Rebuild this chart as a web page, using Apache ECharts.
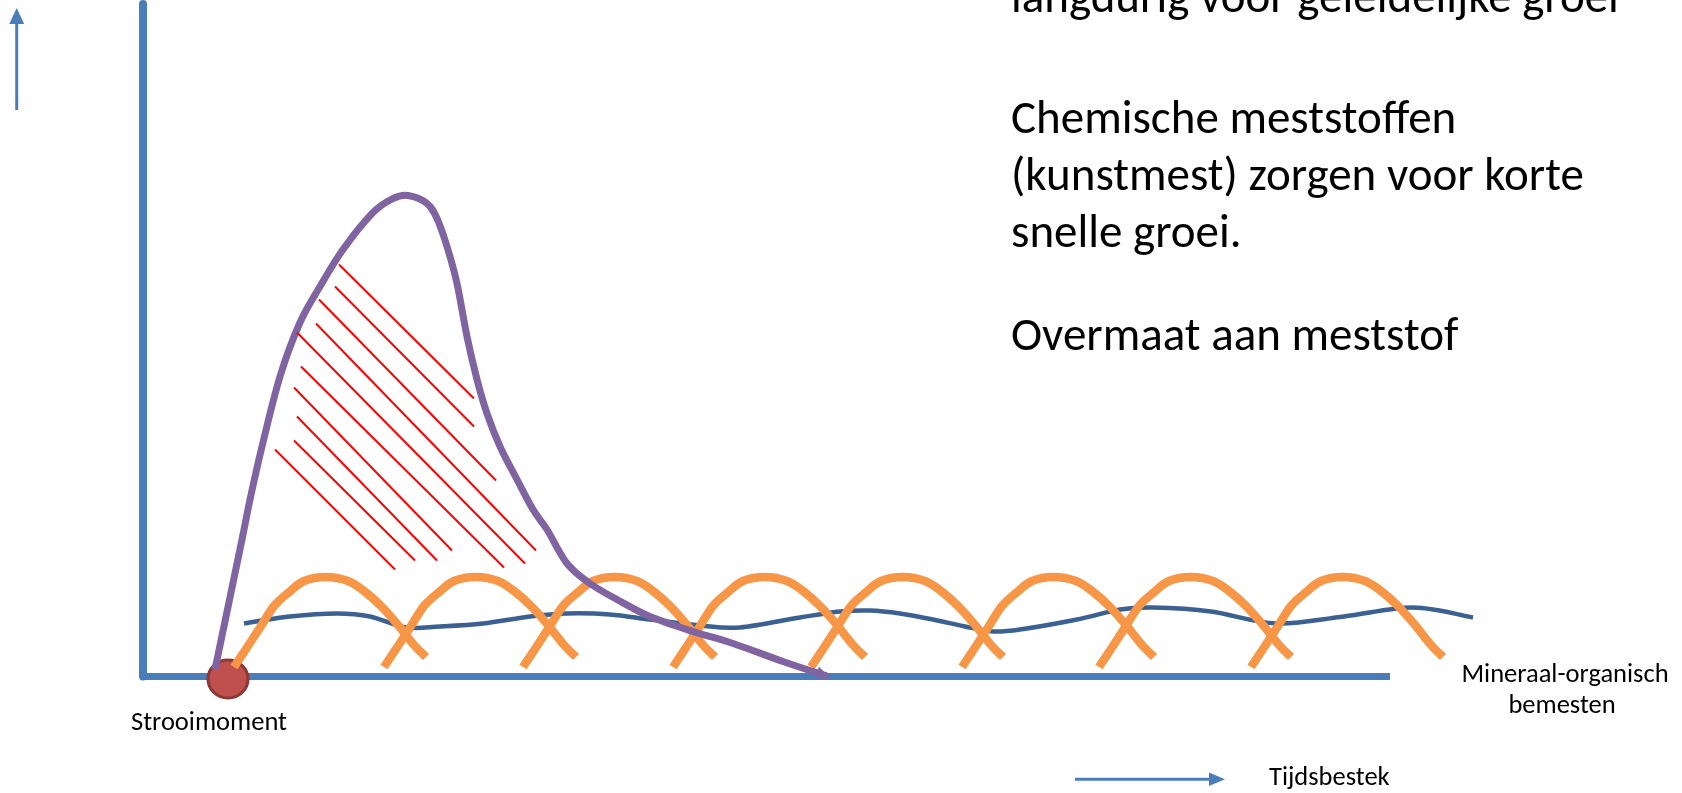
<!DOCTYPE html>
<html>
<head>
<meta charset="utf-8">
<script src="https://cdn.jsdelivr.net/npm/echarts@6/dist/echarts.min.js"></script>
<style>
html,body{margin:0;padding:0;background:#fff;}
#chart{width:1682px;height:793px;}
</style>
</head>
<body>
<div id="chart"></div>
<script>
// ---- data (time units on x, level units on y) ----
const xRange = [0, 124.7];
const yRange = [0, 67.25];

const spreadMoment = [[8.5, -0.25]];

// chemical fertiliser: fast peak, quick decline
const chemicalCurve = [
  [7.2,0.7],[9.9,13.7],[10.7,17.7],[11.9,23.0],[13.7,30.0],[15.7,35.4],[17.7,39.0],
  [20.0,42.7],[23.0,46.4],[25.0,47.8],[26.5,48.1],[28.4,47.3],[29.4,45.8],[30.4,43.0],
  [31.4,39.3],[32.4,34.0],[33.4,29.7],[34.4,26.3],[35.7,23.0],[37.4,19.7],[39.0,16.7],
  [40.4,14.7],[42.4,11.3],[44.7,9.3],[47.4,7.7],[50.7,6.0],[55.0,4.5],[59.0,3.3],
  [64.0,1.5],[68.5,0.0]
];
const chemicalArrowTip = [[68.0, 0.2]];

// mineral-organic: gentle long wave
const mineralOrganic = [
  [10.1,5.3],[14.7,6.0],[19.4,6.3],[22.7,6.0],[26.3,4.9],[29.7,5.0],[34.0,5.3],
  [38.7,6.0],[42.4,6.3],[46.7,6.2],[50.7,5.7],[55.7,5.1],[59.7,4.9],[65.7,5.9],
  [69.7,6.5],[72.7,6.6],[75.7,6.3],[79.0,5.7],[82.2,5.0],[85.0,4.5],[87.7,4.7],
  [93.4,5.7],[97.7,6.7],[101.0,6.9],[106.8,6.5],[113.3,5.3],[120.1,6.0],[127.0,6.9],
  [133.0,5.9]
];

// repeated organic pulses (same heights for each pulse)
const arcLevels = [0.95, 3.05, 5.05, 7.05, 8.35, 9.55, 9.95, 9.55, 8.55, 7.05, 5.15, 3.15, 1.95];
const arc1X = [9.1, 10.5, 11.8, 13.1, 14.5, 16.1, 18.3, 20.5, 22.1, 23.8, 25.5, 27.1, 28.3];
const arc2X = [24.1, 25.5, 26.8, 28.1, 29.5, 31.1, 33.3, 35.5, 37.1, 38.8, 40.5, 42.1, 43.3];
const arc3X = [38.0, 39.4, 40.7, 42.0, 43.4, 45.0, 47.2, 49.4, 51.0, 52.7, 54.4, 56.0, 57.2];
const arc4X = [53.0, 54.4, 55.7, 57.0, 58.4, 60.0, 62.2, 64.4, 66.0, 67.7, 69.4, 71.0, 72.2];
const arc5X = [66.8, 68.2, 69.5, 70.8, 72.2, 73.8, 76.0, 78.2, 79.8, 81.5, 83.2, 84.8, 86.0];
const arc6X = [81.9, 83.3, 84.6, 85.9, 87.3, 88.9, 91.1, 93.3, 94.9, 96.6, 98.3, 99.9, 101.1];
const arc7X = [95.6, 97.0, 98.3, 99.6, 101.0, 102.6, 104.8, 107.0, 108.6, 110.3, 112.0, 113.6, 114.8];
const arc8X = [110.8, 112.2, 113.5, 114.8, 116.2, 117.8, 120.0, 122.2, 123.8, 125.5, 127.2, 128.8, 130.0];
const arcXs = [arc1X, arc2X, arc3X, arc4X, arc5X, arc6X, arc7X, arc8X];

// excess (hatched) zone: [x1, y1, x2, y2]
const excessHatch = [
  [19.6,41.2,33.1,27.8],
  [19.2,39.0,33.1,25.0],
  [17.6,37.7,35.3,19.6],
  [17.3,35.3,39.3,12.6],
  [15.4,34.4,38.2,11.3],
  [15.8,31.0,36.1,10.9],
  [15.1,28.9,30.9,12.6],
  [15.4,26.0,29.4,11.6],
  [15.1,23.6,27.2,11.6],
  [13.2,22.7,25.2,10.7]
];

const textLines = [
  'langdurig voor geleidelijke groei',
  'Chemische meststoffen',
  '(kunstmest) zorgen voor korte',
  'snelle groei.',
  'Overmaat aan meststof'
];
const labelSpread = 'Strooimoment';
const labelMineral = ['Mineraal-organisch', 'bemesten'];
const labelTime = 'Tijdsbestek';

// ---- chart ----
const FONT = 'Calibri, Carlito, Lato, sans-serif';
const AXIS_BLUE = '#4A7EBB';
const chart = echarts.init(document.getElementById('chart'), null, {renderer: 'canvas'});

// smooth curve through the points (Catmull-Rom), positioned via the axes (api.coord)
function curveSeries(points, color, width, z) {
  return {
    type: 'custom', coordinateSystem: 'cartesian2d', silent: true, z: z, clip: false,
    data: [points[0]],
    renderItem: function (params, api) {
      const p = points.map(pt => api.coord(pt));
      let d = 'M' + p[0][0] + ' ' + p[0][1];
      for (let i = 0; i < p.length - 1; i++) {
        const p0 = p[i - 1] || p[i], p1 = p[i], p2 = p[i + 1], p3 = p[i + 2] || p[i + 1];
        const c1x = p1[0] + (p2[0] - p0[0]) / 6, c1y = p1[1] + (p2[1] - p0[1]) / 6;
        const c2x = p2[0] - (p3[0] - p1[0]) / 6, c2y = p2[1] - (p3[1] - p1[1]) / 6;
        d += ' C' + c1x + ' ' + c1y + ' ' + c2x + ' ' + c2y + ' ' + p2[0] + ' ' + p2[1];
      }
      return {
        type: 'path', shape: {pathData: d},
        style: {fill: 'none', stroke: color, lineWidth: width, lineCap: 'butt', lineJoin: 'round'}
      };
    }
  };
}

const series = [];
series.push({
  type: 'scatter', data: spreadMoment, symbol: 'circle', symbolSize: [40, 38],
  itemStyle: {color: '#C0504D', borderColor: '#8C3836', borderWidth: 3, opacity: 1},
  clip: false, silent: true, z: 2
});
series.push(curveSeries(mineralOrganic, '#3B6192', 4.5, 3));
arcXs.forEach(xs => series.push(curveSeries(xs.map((x, i) => [x, arcLevels[i]]), '#F79646', 8.5, 4)));
series.push(curveSeries(chemicalCurve, '#8064A2', 7, 5));
series.push({
  type: 'scatter', data: chemicalArrowTip, symbol: 'triangle', symbolSize: [12, 13],
  symbolRotate: -110, itemStyle: {color: '#8064A2', opacity: 1}, clip: false, silent: true, z: 5
});
series.push({
  type: 'lines', coordinateSystem: 'cartesian2d', silent: true, z: 6,
  data: excessHatch.map(h => ({coords: [[h[0], h[1]], [h[2], h[3]]]})),
  lineStyle: {color: '#FF0000', width: 2, opacity: 1, curveness: 0}
});

const bigFont = 47;
const bigBaselines = [15, 136.7, 193, 250, 353.3];
const graphic = [];
textLines.forEach((t, i) => graphic.push({
  type: 'text', left: 1011, top: bigBaselines[i] - bigFont * 0.82, silent: true,
  style: {text: t, font: bigFont + 'px ' + FONT, fill: '#000'}
}));
// small labels
const smallFont = '26.5px ' + FONT;
graphic.push({type: 'text', x: 209, y: 723, silent: true,
  style: {text: labelSpread, font: smallFont, fill: '#000', align: 'center', verticalAlign: 'middle'}});
graphic.push({type: 'text', x: 1565, y: 675, silent: true,
  style: {text: labelMineral[0], font: smallFont, fill: '#000', align: 'center', verticalAlign: 'middle'}});
graphic.push({type: 'text', x: 1562, y: 706, silent: true,
  style: {text: labelMineral[1], font: smallFont, fill: '#000', align: 'center', verticalAlign: 'middle'}});
graphic.push({type: 'text', x: 1269, y: 778, silent: true,
  style: {text: labelTime, font: smallFont, fill: '#000', align: 'left', verticalAlign: 'middle'}});
// direction arrows
graphic.push({type: 'line', silent: true, shape: {x1: 16.7, y1: 110, x2: 16.7, y2: 22},
  style: {stroke: AXIS_BLUE, lineWidth: 3}});
graphic.push({type: 'polygon', silent: true, shape: {points: [[16.7, 8], [9.2, 24], [24.2, 24]]},
  style: {fill: AXIS_BLUE}});
graphic.push({type: 'line', silent: true, shape: {x1: 1075, y1: 779.3, x2: 1212, y2: 779.3},
  style: {stroke: AXIS_BLUE, lineWidth: 3}});
graphic.push({type: 'polygon', silent: true, shape: {points: [[1225, 779.3], [1209, 772.5], [1209, 786.1]]},
  style: {fill: AXIS_BLUE}});

chart.setOption({
  animation: false,
  backgroundColor: '#ffffff',
  grid: {left: 143, right: 292, top: 4, bottom: 116.5, containLabel: false},
  xAxis: {
    type: 'value', min: xRange[0], max: xRange[1],
    axisLine: {show: true, onZero: false, lineStyle: {color: AXIS_BLUE, width: 7, cap: 'butt'}},
    axisTick: {show: false}, axisLabel: {show: false}, splitLine: {show: false}
  },
  yAxis: {
    type: 'value', min: yRange[0], max: yRange[1],
    axisLine: {show: true, onZero: false, lineStyle: {color: AXIS_BLUE, width: 8, cap: 'round'}},
    axisTick: {show: false}, axisLabel: {show: false}, splitLine: {show: false}
  },
  series: series,
  graphic: graphic
});
</script>
</body>
</html>
